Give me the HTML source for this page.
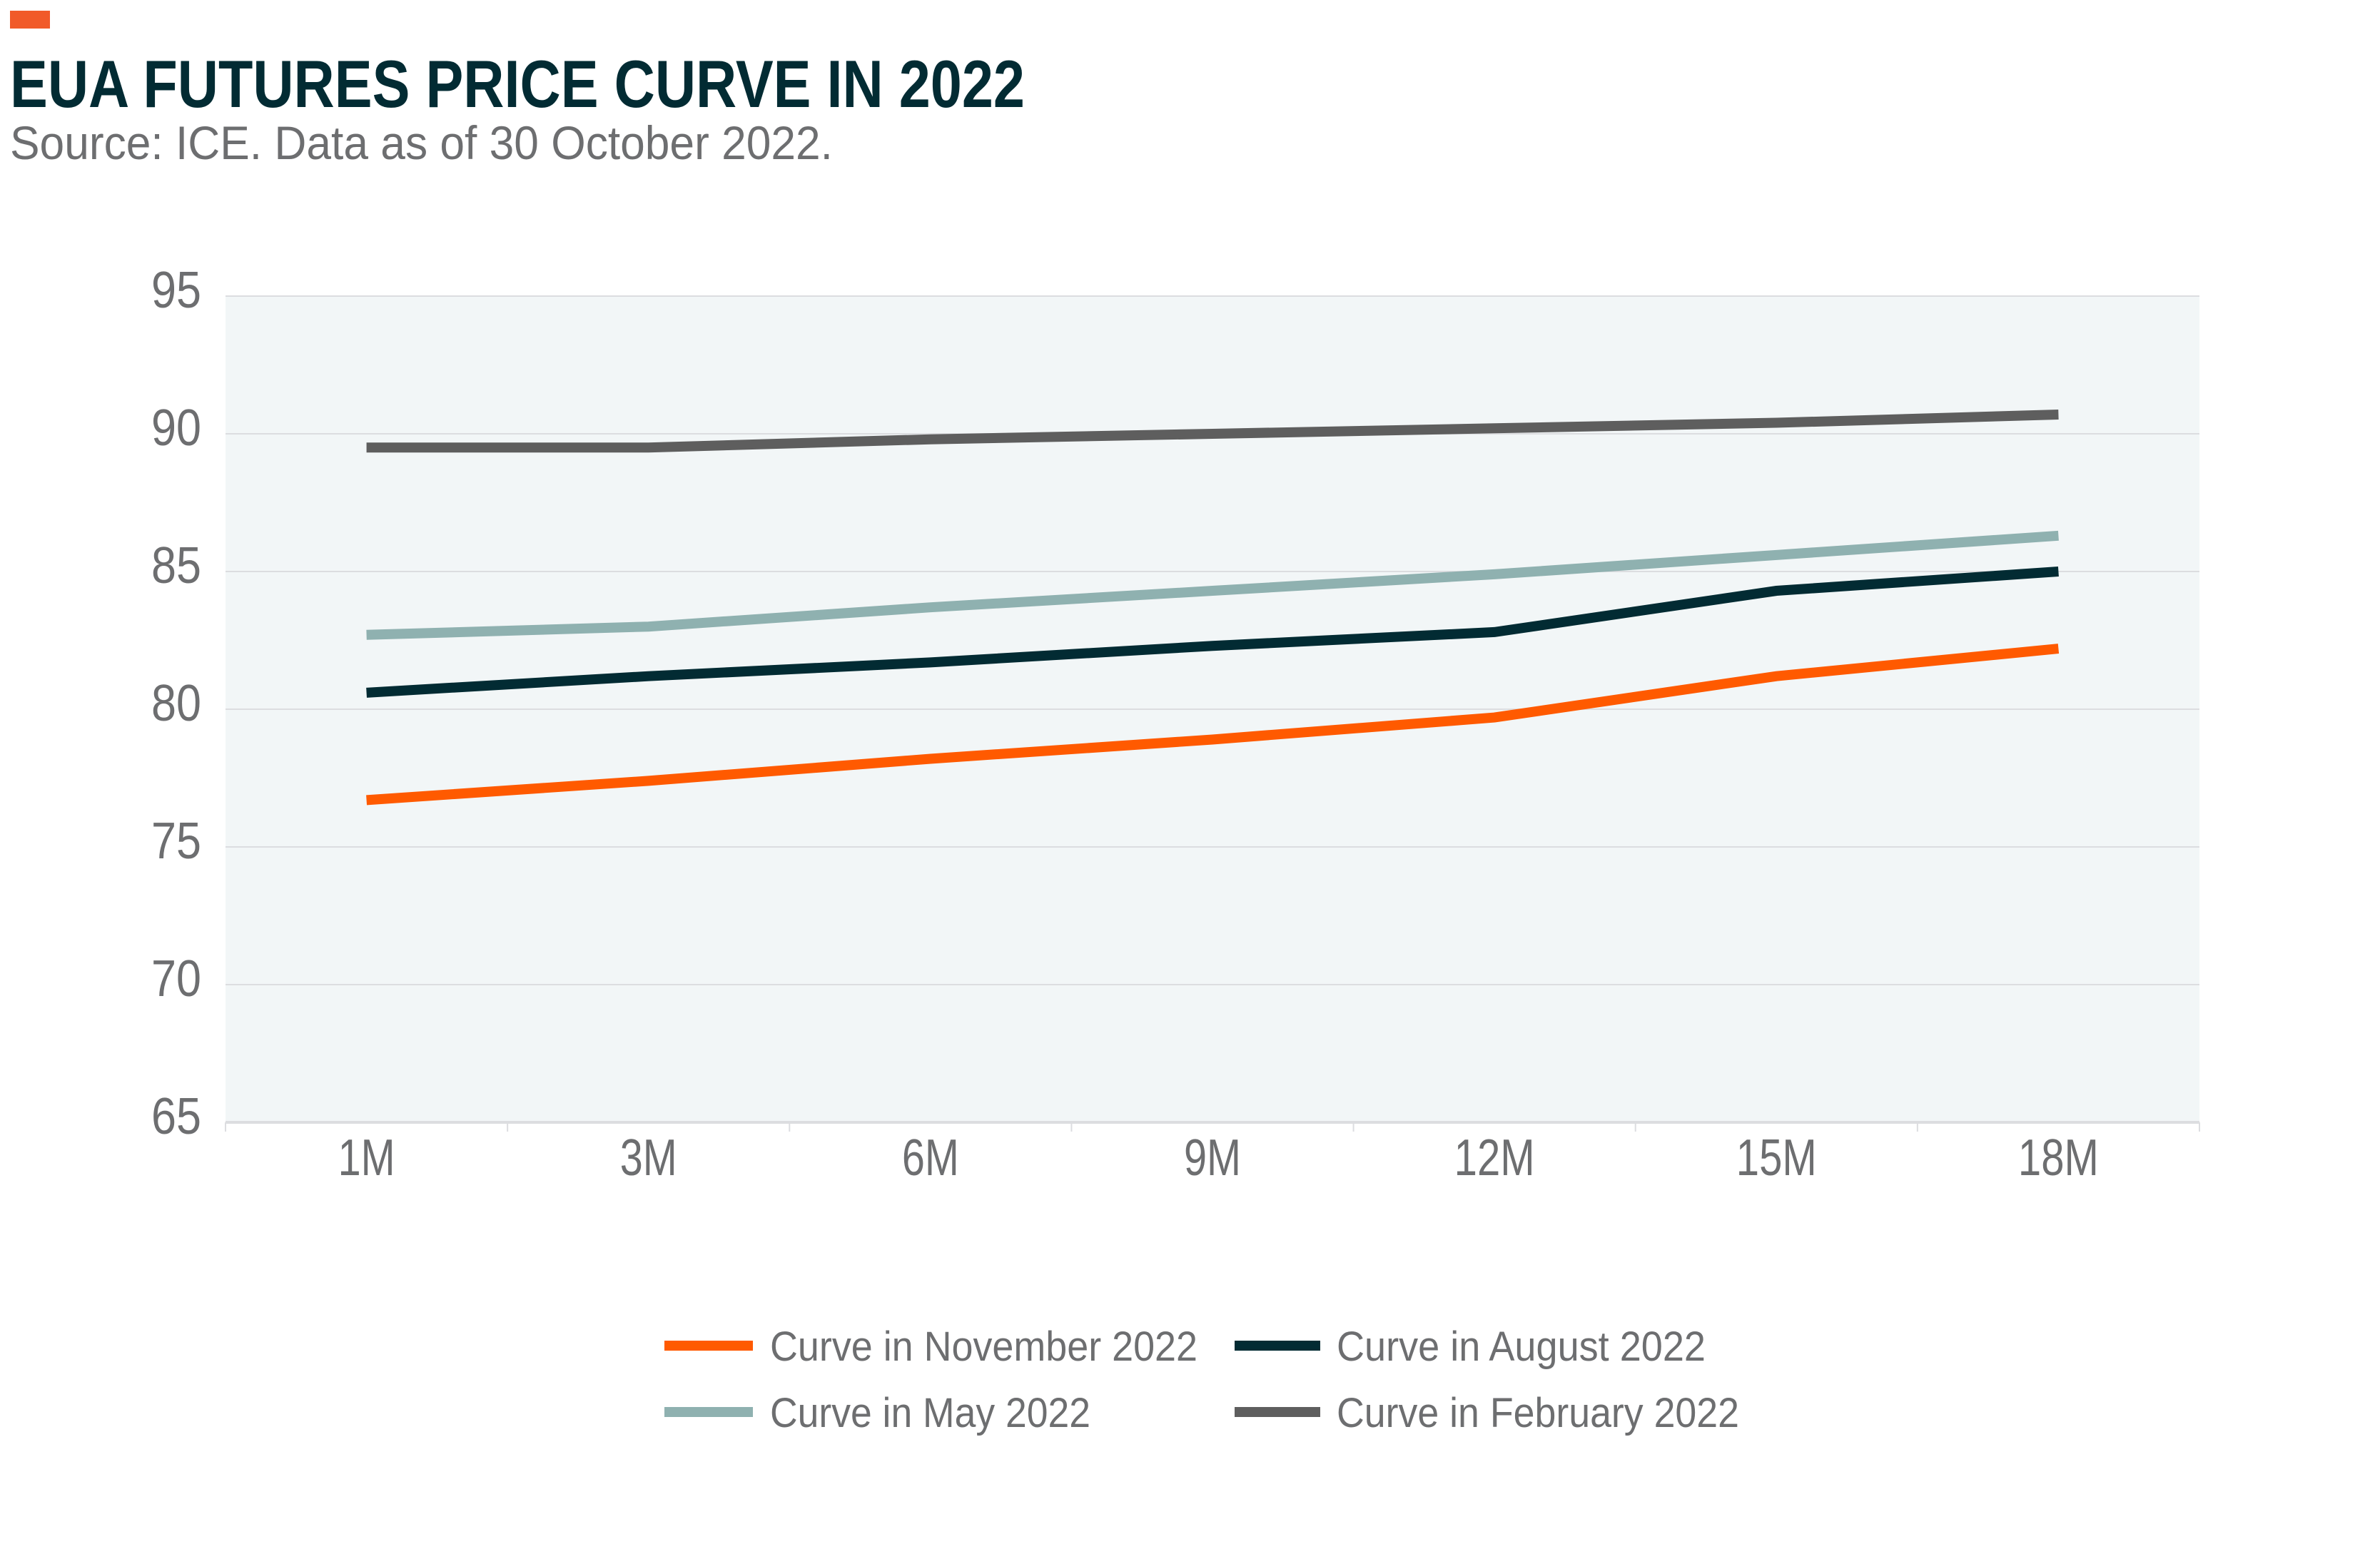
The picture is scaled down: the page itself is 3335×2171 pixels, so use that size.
<!DOCTYPE html>
<html><head><meta charset="utf-8"><style>
html,body{margin:0;padding:0;background:#fff}
svg{display:block;font-family:"Liberation Sans",sans-serif}
</style></head><body>
<svg id="chart" width="3335" height="2171" viewBox="0 0 3335 2171" xmlns="http://www.w3.org/2000/svg">
<rect x="14" y="15" width="56" height="25" fill="#f15a29"/>
<text x="14" y="150" font-size="94" font-weight="bold" fill="#022b33" textLength="1422" lengthAdjust="spacingAndGlyphs">EUA FUTURES PRICE CURVE IN 2022</text>
<text x="14" y="223" font-size="66" fill="#6d6e70" textLength="1153" lengthAdjust="spacingAndGlyphs">Source: ICE. Data as of 30 October 2022.</text>
<rect x="316" y="415" width="2766" height="1158" fill="#f2f6f7"/>
<g id="grid"></g><g id="axes"></g><g id="series"></g>
<g>
<rect x="931" y="1879" width="124" height="14" fill="#ff5a00"/>
<text x="1079" y="1907" font-size="58" fill="#6d6e70" textLength="599" lengthAdjust="spacingAndGlyphs">Curve in November 2022</text>
<rect x="1730" y="1879" width="120" height="14" fill="#022b33"/>
<text x="1873" y="1907" font-size="58" fill="#6d6e70" textLength="517" lengthAdjust="spacingAndGlyphs">Curve in August 2022</text>
<rect x="931" y="1972" width="124" height="14" fill="#8fb1b0"/>
<text x="1079" y="2000" font-size="58" fill="#6d6e70" textLength="449" lengthAdjust="spacingAndGlyphs">Curve in May 2022</text>
<rect x="1730" y="1972" width="120" height="14" fill="#5e5e5e"/>
<text x="1873" y="2000" font-size="58" fill="#6d6e70" textLength="564" lengthAdjust="spacingAndGlyphs">Curve in February 2022</text>
</g>
</svg>
<script>
const categories=["1M","3M","6M","9M","12M","15M","18M"];
const yTicks=[65,70,75,80,85,90,95];
const febValues=[89.5,89.5,89.8,90.0,90.2,90.4,90.7];
const mayValues=[82.7,83.0,83.7,84.3,84.9,85.6,86.3];
const augValues=[80.6,81.2,81.7,82.3,82.8,84.3,85.0];
const novValues=[76.7,77.4,78.2,78.9,79.7,81.2,82.2];
const NS="http://www.w3.org/2000/svg";
const L=316,R=3082,T=415,B=1573,yMin=65,yMax=95;
const band=(R-L)/categories.length;
const xs=i=>L+band*(i+0.5);
const ys=v=>B-(v-yMin)/(yMax-yMin)*(B-T);
function mk(tag,attrs,parent){const e=document.createElementNS(NS,tag);for(const k in attrs)e.setAttribute(k,attrs[k]);parent.appendChild(e);return e;}
const grid=document.getElementById('grid'),axes=document.getElementById('axes'),series=document.getElementById('series');
yTicks.forEach(v=>{
  const g=mk('line',{x1:L,x2:R,y1:ys(v),y2:ys(v),stroke:'#dcdde0','stroke-width':v===yMin?4:2},grid);
  
  
  const t=mk('text',{x:282,y:ys(v)+16,'text-anchor':'end','font-size':72,fill:'#6d6e70',textLength:70,lengthAdjust:'spacingAndGlyphs'},axes);
  t.textContent=v;
  
  
});
for(let i=0;i<=categories.length;i++){
  const tk=mk('line',{x1:L+band*i,x2:L+band*i,y1:B,y2:B+13,stroke:'#dcdde0','stroke-width':2},axes);
  
  
}
categories.forEach((c,i)=>{
  const t=mk('text',{x:xs(i),y:1647,'text-anchor':'middle','font-size':72,fill:'#6d6e70',textLength:c.length>2?113:80,lengthAdjust:'spacingAndGlyphs'},axes);
  t.textContent=c;
  
  
});
[[febValues,'#5e5e5e','february'],[mayValues,'#8fb1b0','may'],[augValues,'#022b33','august'],[novValues,'#ff5a00','november']].forEach(([vals,col,n])=>{
  const p=mk('polyline',{points:vals.map((v,i)=>xs(i)+','+ys(v)).join(' '),fill:'none',stroke:col,'stroke-width':14},series);
  
  
});
</script>
</body></html>
